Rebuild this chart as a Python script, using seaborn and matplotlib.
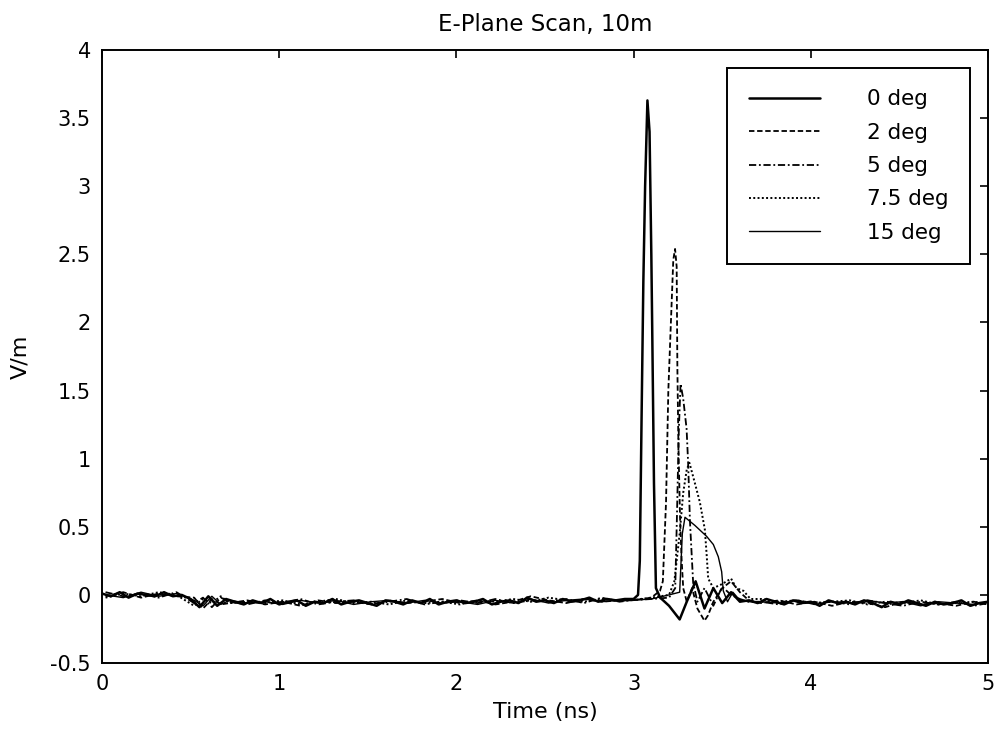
import seaborn as sns
import matplotlib.pyplot as plt
import numpy as np
import pandas as pd

# sampling grids for the flat parts of the traces (ns)
t_pre_fine = [0.00, 0.05, 0.10, 0.15, 0.20, 0.25, 0.30, 0.35, 0.40, 0.45,
              0.50, 0.55, 0.60, 0.65, 0.70, 0.75, 0.80, 0.85, 0.90, 0.95,
              1.00, 1.05, 1.10, 1.15, 1.20, 1.25, 1.30, 1.35, 1.40, 1.45,
              1.50, 1.55, 1.60, 1.65, 1.70, 1.75, 1.80, 1.85, 1.90, 1.95,
              2.00, 2.05, 2.10, 2.15, 2.20, 2.25, 2.30, 2.35, 2.40, 2.45,
              2.50, 2.55, 2.60, 2.65, 2.70, 2.75, 2.80, 2.85, 2.90, 2.95]
t_post_fine = [3.65, 3.70, 3.75, 3.80, 3.85, 3.90, 3.95, 4.00, 4.05, 4.10,
               4.15, 4.20, 4.25, 4.30, 4.35, 4.40, 4.45, 4.50, 4.55, 4.60,
               4.65, 4.70, 4.75, 4.80, 4.85, 4.90, 4.95, 5.00]
t_pre_coarse = [0.02, 0.12, 0.22, 0.32, 0.42, 0.52, 0.57, 0.62, 0.67, 0.72,
                0.82, 0.92, 1.02, 1.12, 1.22, 1.32, 1.42, 1.52, 1.62, 1.72,
                1.82, 1.92, 2.02, 2.12, 2.22, 2.32, 2.42, 2.52, 2.62, 2.72,
                2.82, 2.92]
t_post_coarse = [3.72, 3.82, 3.92, 4.02, 4.12, 4.22, 4.32, 4.42, 4.52, 4.62,
                 4.72, 4.82, 4.92, 5.00]

# 0 deg
v0_pre = [0.01, -0.01, 0.02, -0.02, 0.01, 0.00, -0.01, 0.02, -0.01, 0.00,
          -0.03, -0.09, -0.01, -0.08, -0.03, -0.05, -0.07, -0.04, -0.06, -0.03,
          -0.07, -0.05, -0.04, -0.08, -0.05, -0.06, -0.03, -0.07, -0.05, -0.04,
          -0.06, -0.08, -0.04, -0.05, -0.07, -0.04, -0.06, -0.03, -0.07, -0.05,
          -0.04, -0.06, -0.05, -0.03, -0.07, -0.05, -0.04, -0.06, -0.02, -0.05,
          -0.04, -0.06, -0.03, -0.05, -0.04, -0.02, -0.05, -0.03, -0.04, -0.03]
t0_pulse = [3.00, 3.025, 3.035, 3.045, 3.055, 3.065, 3.078, 3.09, 3.10, 3.105, 3.115,
            3.126, 3.15, 3.20, 3.26, 3.30, 3.35, 3.40, 3.45, 3.50, 3.55, 3.60]
v0_pulse = [-0.03, 0.00, 0.25, 1.30, 2.30, 3.00, 3.63, 3.40, 2.50, 1.96, 0.82,
            0.05, -0.02, -0.08, -0.18, -0.05, 0.10, -0.10, 0.05, -0.06, 0.02, -0.05]
v0_post = [-0.04, -0.06, -0.03, -0.05, -0.07, -0.04, -0.06, -0.05, -0.08, -0.04,
           -0.06, -0.05, -0.07, -0.04, -0.06, -0.09, -0.05, -0.07, -0.04, -0.06,
           -0.08, -0.05, -0.07, -0.06, -0.04, -0.08, -0.06, -0.05]

# 2 deg
v2_pre = [-0.01, 0.02, -0.02, 0.01, -0.01, -0.02, -0.10, -0.03, -0.07, -0.06,
          -0.04, -0.07, -0.05, -0.08, -0.04, -0.06, -0.05, -0.07, -0.04, -0.06,
          -0.05, -0.03, -0.06, -0.04, -0.07, -0.05, -0.01, -0.04, -0.06, -0.03,
          -0.05, -0.04]
t2_pulse = [2.98, 3.05, 3.10, 3.149, 3.165, 3.183, 3.196, 3.209, 3.224, 3.234,
            3.243, 3.247, 3.253, 3.262, 3.271, 3.28, 3.30, 3.33, 3.36, 3.40,
            3.42, 3.45, 3.50, 3.55, 3.60, 3.65]
v2_pulse = [-0.04, -0.03, -0.02, 0.03, 0.10, 0.68, 1.50, 1.95, 2.46, 2.54,
            2.41, 1.67, 1.10, 0.57, 0.26, 0.05, -0.05, 0.05, -0.10, -0.19,
            -0.15, -0.05, 0.05, 0.10, 0.02, -0.04]
v2_post = [-0.06, -0.04, -0.07, -0.05, -0.08, -0.05, -0.06, -0.09, -0.05, -0.07,
           -0.06, -0.08, -0.05, -0.07]

# 5 deg
v5_pre = [0.02, -0.01, 0.01, -0.02, 0.02, -0.06, -0.02, -0.09, -0.02, -0.05,
          -0.07, -0.04, -0.06, -0.03, -0.07, -0.05, -0.04, -0.07, -0.05, -0.03,
          -0.07, -0.05, -0.04, -0.06, -0.03, -0.06, -0.04, -0.05, -0.03, -0.06,
          -0.02, -0.05]
t5_pulse = [2.98, 3.10, 3.20, 3.235, 3.245, 3.255, 3.265, 3.28, 3.299, 3.308,
            3.318, 3.336, 3.36, 3.40, 3.45, 3.50, 3.55, 3.60, 3.65]
v5_pulse = [-0.04, -0.03, -0.02, 0.05, 0.60, 1.20, 1.55, 1.44, 1.22, 0.96,
            0.54, 0.09, -0.05, 0.05, -0.08, 0.06, 0.00, -0.03, -0.05]
v5_post = [-0.05, -0.07, -0.04, -0.06, -0.05, -0.07, -0.04, -0.06, -0.08, -0.05,
           -0.07, -0.05, -0.08, -0.06]

# 7.5 deg
v75_pre = [-0.02, 0.01, -0.01, 0.02, 0.00, -0.08, -0.03, -0.06, -0.01, -0.06,
           -0.05, -0.06, -0.04, -0.07, -0.05, -0.03, -0.06, -0.05, -0.07, -0.04,
           -0.06, -0.05, -0.07, -0.04, -0.05, -0.03, -0.05, -0.02, -0.04, -0.05,
           -0.03, -0.04]
t75_pulse = [2.98, 3.10, 3.20, 3.23, 3.26, 3.28, 3.30, 3.315, 3.346, 3.374,
             3.402, 3.412, 3.421, 3.45, 3.50, 3.55, 3.58, 3.62, 3.66]
v75_pulse = [-0.04, -0.02, 0.00, 0.10, 0.45, 0.75, 0.92, 0.97, 0.82, 0.68,
             0.48, 0.30, 0.12, 0.05, 0.08, 0.12, 0.05, 0.03, -0.03]
v75_post = [-0.03, -0.05, -0.04, -0.06, -0.05, -0.04, -0.07, -0.05, -0.06, -0.04,
            -0.07, -0.06, -0.05, -0.07]

# 15 deg
v15_pre = [0.00, -0.02, 0.02, -0.01, 0.01, -0.04, -0.08, -0.01, -0.07, -0.04,
           -0.06, -0.05, -0.07, -0.04, -0.06, -0.04, -0.07, -0.05, -0.04, -0.06,
           -0.04, -0.06, -0.05, -0.07, -0.04, -0.06, -0.03, -0.06, -0.04, -0.03,
           -0.05, -0.04]
t15_pulse = [2.98, 3.10, 3.20, 3.26, 3.275, 3.29, 3.346, 3.412, 3.45, 3.478,
             3.497, 3.506, 3.53, 3.56, 3.60, 3.65]
v15_pulse = [-0.04, -0.03, 0.00, 0.02, 0.45, 0.57, 0.51, 0.43, 0.37, 0.28,
             0.17, 0.03, -0.05, 0.02, -0.04, -0.05]
v15_post = [-0.05, -0.06, -0.04, -0.07, -0.05, -0.06, -0.04, -0.06, -0.05, -0.08,
            -0.05, -0.06, -0.07, -0.05]

labels = ["0 deg", "2 deg", "5 deg", "7.5 deg", "15 deg"]

series = [
    (t_pre_fine + t0_pulse + t_post_fine, v0_pre + v0_pulse + v0_post),
    (t_pre_coarse + t2_pulse + t_post_coarse, v2_pre + v2_pulse + v2_post),
    (t_pre_coarse + t5_pulse + t_post_coarse, v5_pre + v5_pulse + v5_post),
    (t_pre_coarse + t75_pulse + t_post_coarse, v75_pre + v75_pulse + v75_post),
    (t_pre_coarse + t15_pulse + t_post_coarse, v15_pre + v15_pulse + v15_post),
]
styles = [("-", 1.8), ((0, (3, 1.5)), 1.3), ((0, (4, 1.5, 1, 1.5)), 1.3),
          ((0, (1, 1.2)), 1.4), ("-", 1.0)]

sns.set_style("white")
plt.rcParams["font.family"] = ["DejaVu Sans"]
plt.rcParams["text.color"] = "black"
plt.rcParams["axes.labelcolor"] = "black"

fig = plt.figure(figsize=(10, 7.38), dpi=100)
ax = fig.add_axes([0.102, 0.1016, 0.886, 0.8306])

for (t, v), lab, (ls, lw) in zip(series, labels, styles):
    df = pd.DataFrame({"t": t, "v": v})
    sns.lineplot(data=df, x="t", y="v", ax=ax, color="black", linestyle=ls,
                 linewidth=lw, label=lab, estimator=None)

ax.set_xlim(0, 5)
ax.set_ylim(-0.5, 4)
ax.set_xticks([0, 1, 2, 3, 4, 5])
yt = [-0.5, 0, 0.5, 1, 1.5, 2, 2.5, 3, 3.5, 4]
ax.set_yticks(yt)
ax.set_yticklabels(["-0.5", "0", "0.5", "1", "1.5", "2", "2.5", "3", "3.5", "4"])
ax.tick_params(direction="in", length=6, width=1.2, top=True, right=True,
               labelsize=15, colors="black", pad=8)
for s in ax.spines.values():
    s.set_color("black")
    s.set_linewidth(1.4)

ax.set_xlabel("Time (ns)", fontsize=16, labelpad=6)
ax.set_ylabel("V/m", fontsize=16, labelpad=14)
ax.set_title("E-Plane Scan, 10m", fontsize=16.5, pad=14)

leg = ax.legend(loc="upper right", bbox_to_anchor=(0.98, 0.971), fontsize=15.5,
                handlelength=3.3, handletextpad=2.2, labelspacing=0.62,
                borderpad=1.0, borderaxespad=0, fancybox=False, framealpha=1)
leg.get_frame().set_edgecolor("black")
leg.get_frame().set_linewidth(1.4)

fig.savefig("out.png", dpi=100)
